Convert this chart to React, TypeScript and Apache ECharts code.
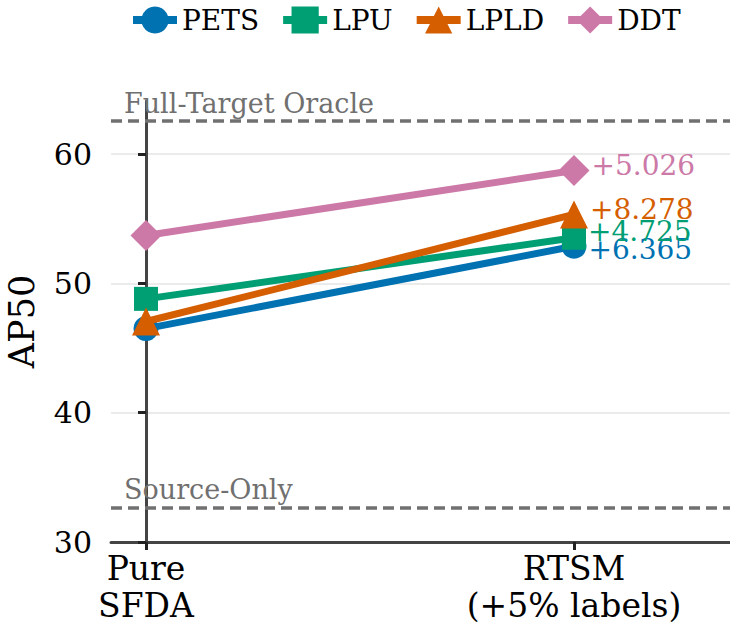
import React, { useEffect, useRef } from "react";
import * as echarts from "echarts";

const categories = ["Pure\nSFDA", "RTSM\n(+5% labels)"];
const methods = ["PETS", "LPU", "LPLD", "DDT"];
const pureSFDA = [46.5, 48.8, 47.05, 53.7];
const gains = [6.365, 4.725, 8.278, 5.026];
const referenceLines = [
  { name: "Full-Target Oracle", value: 62.56 },
  { name: "Source-Only", value: 32.67 },
];
const yTicks = [30, 40, 50, 60];

const colors = ["#0072B2", "#009E73", "#D55E00", "#CC79A7"];
const symbols = ["circle", "rect", "triangle", "diamond"];
const symbolSizes = [25, 24, 28, 31];
const labelOffsets = [[0, 3], [0, -6], [0, -5], [0, -5]];

const FONT = "DejaVu Serif";

export default function App() {
  const ref = useRef<HTMLDivElement>(null);
  useEffect(() => {
    document.body.style.margin = "0";
    if (!ref.current) return;
    const chart = echarts.init(ref.current, undefined, { renderer: "svg" });
    const series: any[] = methods.map((m, i) => {
      const after = +(pureSFDA[i] + gains[i]).toFixed(3);
      return {
        name: m,
        type: "line",
        data: [
          [0, pureSFDA[i]],
          {
            value: [1, after],
            label: {
              show: true,
              position: "right",
              distance: 2,
              offset: labelOffsets[i],
              formatter: "+" + gains[i].toFixed(3),
              color: colors[i],
              fontFamily: FONT,
              fontSize: 28,
            },
          },
        ],
        symbol: symbols[i],
        symbolSize: symbolSizes[i],
        color: colors[i],
        lineStyle: { width: 7, color: colors[i] },
        itemStyle: { color: colors[i] },
        z: 3 + i,
      };
    });
    series[0].markLine = {
      silent: true,
      symbol: "none",
      lineStyle: { type: [11, 6], width: 3.5, color: "#707070" },
      label: {
        show: true,
        position: "insideStartTop",
        formatter: "{b}",
        color: "#707070",
        fontFamily: FONT,
        fontSize: 27,
        distance: [13, 4],
      },
      data: referenceLines.map((r) => ({ name: r.name, yAxis: r.value })),
    };
    chart.setOption({
      animation: false,
      textStyle: { fontFamily: FONT },
      legend: {
        top: 1,
        left: 124,
        itemWidth: 44,
        itemHeight: 34,
        itemGap: 20,
        lineStyle: { width: 8 },
        textStyle: { fontFamily: FONT, fontSize: 28, color: "#000" },
        data: methods,
      },
      grid: {
        left: 111,
        right: 0,
        top: 101,
        bottom: 86,
        containLabel: false,
        outerBoundsMode: "none",
      },
      xAxis: {
        type: "value",
        min: -0.0818,
        max: 1.3645,
        axisLine: { show: true, lineStyle: { color: "#444", width: 3 } },
        axisTick: {
          show: true,
          customValues: [0, 1],
          length: 8,
          lineStyle: { color: "#222", width: 3 },
        },
        axisLabel: {
          customValues: [0, 1],
          formatter: (v: number) => categories[Math.round(v)],
          fontFamily: FONT,
          fontSize: 33,
          lineHeight: 37,
          color: "#000",
          margin: 8,
        },
        splitLine: { show: false },
      },
      yAxis: {
        type: "value",
        min: 30,
        max: 64.1,
        interval: 10,
        name: "AP50",
        nameLocation: "middle",
        nameGap: 72,
        nameRotate: 90,
        nameTextStyle: { fontFamily: FONT, fontSize: 35, color: "#000" },
        axisLine: { show: true, lineStyle: { color: "#444", width: 3 } },
        axisTick: {
          show: true,
          customValues: yTicks,
          length: 8,
          lineStyle: { color: "#222", width: 3 },
        },
        axisLabel: {
          customValues: yTicks,
          fontFamily: FONT,
          fontSize: 30,
          color: "#000",
          margin: 19,
        },
        splitLine: { show: true, lineStyle: { color: "#ebebeb", width: 2 } },
      },
      series,
    });
    return () => chart.dispose();
  }, []);
  return <div ref={ref} style={{ width: 730, height: 628 }} />;
}
